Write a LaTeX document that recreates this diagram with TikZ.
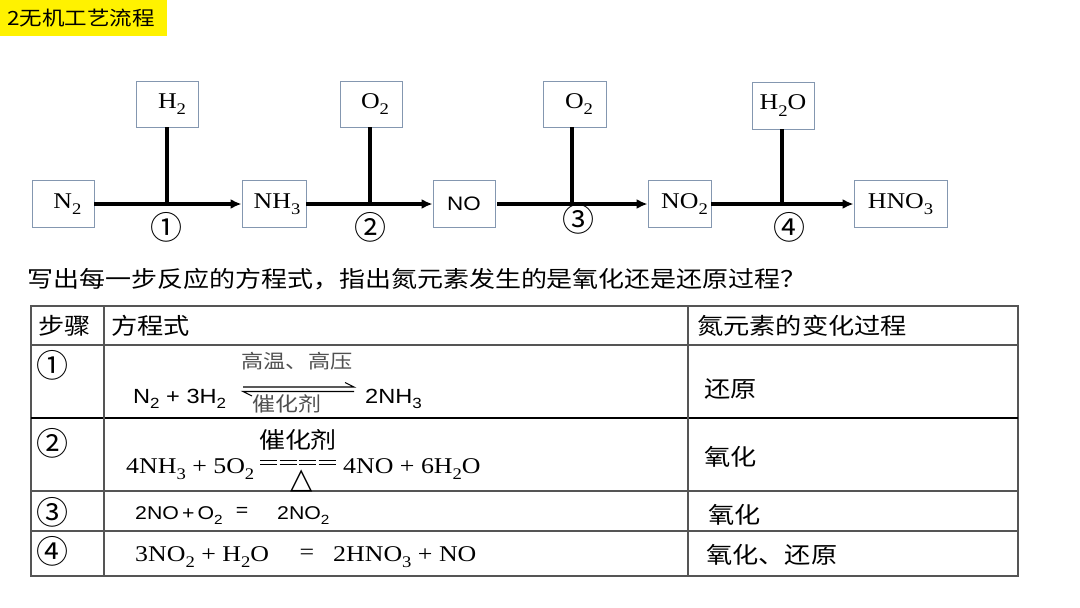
\documentclass[tikz,border=0pt]{standalone}
\usepackage{fontspec}
\usepackage{graphicx}
\usetikzlibrary{arrows.meta}
\newfontfamily\cjk{Noto Sans CJK SC}[FakeStretch=1.15]
\newfontfamily\cjn{Noto Sans CJK SC}
\newfontfamily\ser{Liberation Serif}[FakeStretch=1.15]
\newfontfamily\san{Liberation Sans}[FakeStretch=1.15]
\newfontfamily\dju{DejaVu Sans}
\newcommand\sbs[1]{\raisebox{-0.28em}{\scalebox{0.72}{#1}}}
\newcommand\fs[1]{\fontsize{#1}{#1}\selectfont}
\definecolor{boxline}{HTML}{8497B0}
\definecolor{tline}{HTML}{555555}
\definecolor{graytext}{HTML}{505050}
\tikzset{
  chem/.style={draw=boxline, line width=0.9pt, minimum height=47pt, inner sep=0pt, font=\ser\fs{22.5}},
  flow/.style={line width=3.2pt, -{Latex[length=11pt,width=10pt]}},
  feed/.style={line width=3.2pt},
  circ/.style={font=\cjn\fs{32}, inner sep=0pt},
  zh/.style={font=\cjk\fs{22.6}, inner sep=0pt, anchor=west},
  zt/.style={font=\cjk\fs{22.8}, inner sep=0pt, anchor=west},
  tl/.style={draw=tline, line width=1.2pt},
  eqs/.style={font=\san\fs{20.5}, inner sep=0pt, anchor=base west},
  eqr/.style={font=\ser\fs{22.5}, inner sep=0pt, anchor=base west},
}
\begin{document}
\begin{tikzpicture}[x=1pt,y=-1pt]
\useasboundingbox (0,0) rectangle (1080,608);
\fill[white] (0,0) rectangle (1080,608);
% title
\fill[yellow] (0,0) rectangle (167,36);
\node[font=\cjk\fs{19.6}, anchor=west, inner sep=0pt] (title) at (7,18) {2无机工艺流程};
% flow boxes
\node[chem, minimum width=62pt] (n2) at (63,204) {\hspace{9pt}N\sbs{2}};
\node[chem, minimum width=62pt, minimum height=46pt] (h2) at (167,104) {\hspace{10pt}H\sbs{2}};
\node[chem, minimum width=64pt] (nh3) at (274,204) {\hspace{6pt}NH\sbs{3}};
\node[chem, minimum width=62pt, minimum height=46pt] (o2a) at (371,104) {\hspace{8pt}O\sbs{2}};
\node[chem, minimum width=62pt, font=\san\fs{19.5}] (no) at (464,204) {NO\hspace{13pt}};
\node[chem, minimum width=63pt, minimum height=46pt] (o2b) at (575,104) {\hspace{8pt}O\sbs{2}};
\node[chem, minimum width=63pt] (no2) at (679.5,204) {\hspace{10pt}NO\sbs{2}};
\node[chem, minimum width=62pt] (h2o) at (783,105.5) {H\sbs{2}O};
\node[chem, minimum width=93pt] (hno3) at (900.5,204) {HNO\sbs{3}\hspace{4pt}};
% junctions
\coordinate (j1) at (167,204);
\coordinate (j2) at (370,204);
\coordinate (j3) at (572,204);
\coordinate (j4) at (782,204);
\draw[flow] (n2) -- (nh3);
\draw[flow] (nh3) -- (no);
\draw[flow, shorten <=2pt] (no) -- (no2);
\draw[flow] (no2) -- (hno3);
\draw[feed] (h2.south -| j1) -- (j1);
\draw[feed] (o2a.south -| j2) -- (j2);
\draw[feed] (o2b.south -| j3) -- (j3);
\draw[feed] (h2o.south -| j4) -- (j4);
\node[circ] (c1) at (166,227.5) {①};
\node[circ] (c2) at (370,227.5) {②};
\node[circ] (c3) at (578,219.5) {③};
\node[circ] (c4) at (789,227.5) {④};
% question
\node[zh] (q) at (27,279) {写出每一步反应的方程式，指出氮元素发生的是氧化还是还原过程？};
% table
\draw[tl] (31,306) rectangle (1018,576);
\draw[tl] (31,345) -- (1018,345);
\draw[tl, draw=black] (31,418) -- (1018,418);
\draw[tl] (31,491) -- (1018,491);
\draw[tl] (31,531) -- (1018,531);
\draw[tl] (104,306) -- (104,576);
\draw[tl] (688,306) -- (688,576);
\node[zt] (h1) at (38,326) {步骤};
\node[zt] (h2t) at (111,326) {方程式};
\node[zt] (h3) at (697,326) {氮元素的变化过程};
\node[circ] (r1) at (52,365) {①};
\node[circ] (r2) at (52,443) {②};
\node[circ] (r3) at (52,512) {③};
\node[circ] (r4) at (52,551) {④};
% row 1
\node[eqs] (e1a) at (133,403) {N\sbs{2} + 3H\sbs{2}};
\node[font=\cjk\fs{19.3}, text=graytext, inner sep=0pt] (e1t) at (297,361) {高温、高压};
\node[font=\cjk\fs{20}, text=graytext, inner sep=0pt] (e1b) at (287,404) {催化剂};
\draw[line width=1.1pt] (243,387) -- (354,387) -- (345,382.5);
\draw[line width=1.1pt] (354,391.5) -- (243,391.5) -- (252,396);
\node[eqs] (e1c) at (365,403) {2NH\sbs{3}};
% row 2
\node[eqr] (e2a) at (126,473) {4NH\sbs{3} + 5O\sbs{2}};
\node[font=\cjk\fs{22.6}, inner sep=0pt] (e2t) at (298,440) {催化剂};
\foreach \s in {0,1,2,3} {
  \draw[line width=0.9pt] ({260+\s*19.5},460) -- ({277+\s*19.5},460);
  \draw[line width=0.9pt] ({260+\s*19.5},464.5) -- ({277+\s*19.5},464.5);
}
\node[font=\dju\fs{29}, inner sep=0pt] (e2d) at (302,481) {△};
\node[eqr] (e2c) at (343,473) {4NO + 6H\sbs{2}O};
% row 3
\node[eqs, font=\san\fs{18.5}] (e3a) at (135,519) {2NO\,+\,O\sbs{2}};
\node[font=\san\fs{18.5}, inner sep=0pt] (e3e) at (242,512) {=};
\node[eqs, font=\san\fs{18.5}] (e3c) at (277,519) {2NO\sbs{2}};
% row 4
\node[eqr] (e4a) at (135,561) {3NO\sbs{2} + H\sbs{2}O};
\node[font=\ser\fs{22.5}, inner sep=0pt] (e4e) at (307,554) {=};
\node[eqr] (e4c) at (333,561) {2HNO\sbs{3} + NO};
% column 3
\node[zt] (s1) at (704,389) {还原};
\node[zt] (s2) at (704,457) {氧化};
\node[zt] (s3) at (708,515) {氧化};
\node[zt] (s4) at (706,555) {氧化、还原};
\end{tikzpicture}
\end{document}
